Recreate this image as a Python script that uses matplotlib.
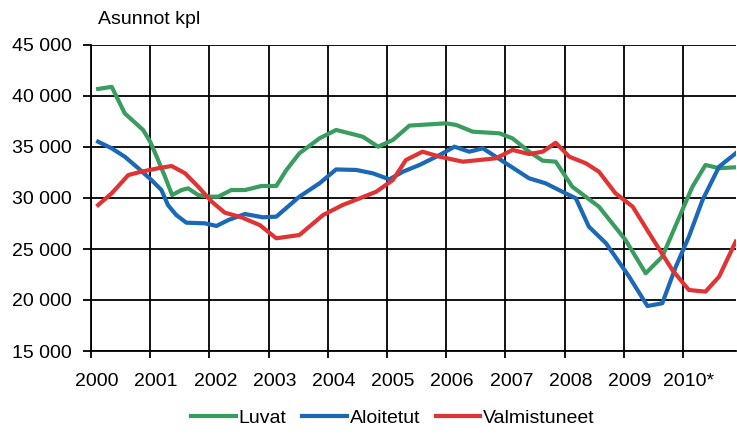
import numpy as np
import matplotlib.pyplot as plt
import matplotlib.transforms as mtransforms

# Data (decimal year, dwellings)
luvat_x = [2000.12, 2000.35, 2000.57, 2000.88, 2001.0, 2001.11, 2001.25, 2001.37, 2001.53, 2001.64,
           2001.81, 2002.0, 2002.15, 2002.37, 2002.6, 2002.88, 2003.13, 2003.3, 2003.52, 2003.86,
           2004.14, 2004.37, 2004.59, 2004.85, 2005.1, 2005.38, 2006.0, 2006.17, 2006.45, 2006.9,
           2007.12, 2007.4, 2007.63, 2007.85, 2008.13, 2008.58, 2009.03, 2009.37, 2009.65, 2009.99,
           2010.16, 2010.38, 2010.61, 2010.89]
luvat_y = [40690, 40900, 38300, 36670, 35520, 34050, 32090, 30290, 30780, 30950,
           30290, 30130, 30130, 30780, 30780, 31180, 31180, 32740, 34380, 35850,
           36670, 36340, 36010, 35030, 35690, 37100, 37320, 37160, 36500, 36340,
           35850, 34540, 33660, 33560, 31110, 29150, 25880, 22620, 24250, 28830,
           31110, 33240, 32920, 33010]

aloitetut_x = [2000.12, 2000.35, 2000.57, 2000.8, 2001.02, 2001.19, 2001.3, 2001.44, 2001.61, 2001.92,
               2002.12, 2002.32, 2002.6, 2002.9, 2003.13, 2003.52, 2003.86, 2004.14, 2004.48, 2004.76,
               2005.04, 2005.27, 2005.55, 2005.89, 2006.14, 2006.39, 2006.62, 2007.01, 2007.4, 2007.68,
               2007.96, 2008.19, 2008.41, 2008.7, 2009.09, 2009.4, 2009.65, 2009.88, 2010.1, 2010.33,
               2010.61, 2010.89]
aloitetut_y = [35520, 34870, 34050, 32910, 31770, 30780, 29310, 28330, 27580, 27520,
               27260, 27840, 28430, 28110, 28170, 30130, 31440, 32800, 32750, 32420,
               31830, 32580, 33240, 34220, 35030, 34540, 34870, 33400, 31930, 31440,
               30620, 29970, 27190, 25560, 22290, 19410, 19680, 23280, 26210, 29800,
               33070, 34380]

valmistuneet_x = [2000.12, 2000.35, 2000.63, 2000.85, 2001.13, 2001.36, 2001.59, 2001.81, 2002.04, 2002.26,
                  2002.54, 2002.85, 2003.13, 2003.52, 2003.92, 2004.25, 2004.54, 2004.82, 2005.1, 2005.32,
                  2005.6, 2005.89, 2006.28, 2006.84, 2007.12, 2007.4, 2007.63, 2007.85, 2008.08, 2008.36,
                  2008.58, 2008.86, 2009.15, 2009.43, 2009.82, 2010.1, 2010.38, 2010.61, 2010.89]
valmistuneet_y = [29310, 30460, 32250, 32580, 32910, 33140, 32420, 31110, 29640, 28560,
                  28110, 27350, 26050, 26370, 28330, 29310, 29970, 30620, 31770, 33730,
                  34540, 34050, 33560, 33890, 34710, 34310, 34540, 35420, 34050, 33400,
                  32580, 30460, 29150, 26540, 22940, 20980, 20820, 22290, 25720]

years = list(range(2000, 2011))
year_labels = [str(y) for y in years[:-1]] + ['2010*']
y_ticks = list(range(15000, 45001, 5000))

plt.rcParams['font.family'] = ['Liberation Sans', 'DejaVu Sans']

fig = plt.figure(figsize=(7.37, 4.36), dpi=100)
ax = fig.add_axes([91/737, 1 - 351/436, 1 - 91/737 - 0.001, (351 - 45)/436])

ax.plot(luvat_x, luvat_y, color='#3a9c5f', lw=3, label='Luvat', solid_joinstyle='round')
ax.plot(aloitetut_x, aloitetut_y, color='#1a68b6', lw=3, label='Aloitetut', solid_joinstyle='round')
ax.plot(valmistuneet_x, valmistuneet_y, color='#e03434', lw=3, label='Valmistuneet', solid_joinstyle='round')

ax.set_xlim(2000, 2010.9)
ax.set_ylim(15000, 45000)
ax.set_xticks(years)
ax.set_xticklabels(year_labels)
ax.set_yticks(y_ticks)
ax.set_yticklabels(['{:,}'.format(v).replace(',', ' ') for v in y_ticks])
ax.grid(True, color='black', lw=1.3)
ax.set_axisbelow(True)

for s in ['top', 'right']:
    ax.spines[s].set_visible(False)
for s in ['left', 'bottom']:
    ax.spines[s].set_linewidth(1.3)

ax.tick_params(axis='y', length=6, width=1.3, pad=8, labelsize=14)
ax.tick_params(axis='x', length=5, width=1.3, pad=11, labelsize=14)

# year labels sit a little right of their tick in the original
offset = mtransforms.ScaledTranslation(6/100, 0, fig.dpi_scale_trans)
for lab in ax.get_xticklabels():
    lab.set_transform(lab.get_transform() + offset)

fig.text(98/737, 1 - 20/436, 'Asunnot kpl', fontsize=14, va='center', ha='left')

fig.legend(loc='center', bbox_to_anchor=(393/737, 1 - 418/436), ncol=3, frameon=False,
           fontsize=14, handlelength=2.3, handletextpad=0.15, columnspacing=0.8)

plt.savefig('out.png', dpi=100)
